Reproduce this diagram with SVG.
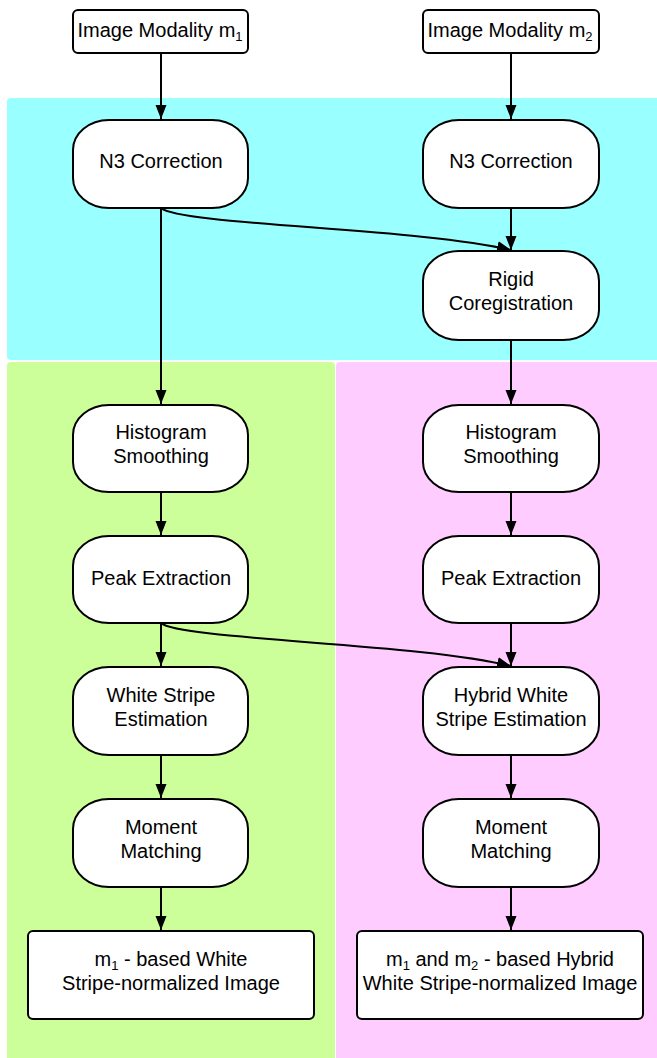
<svg xmlns="http://www.w3.org/2000/svg" width="657" height="1058" viewBox="0 0 657 1058">
<defs>
<style>
.n{fill:#fff;stroke:#000;stroke-width:2}
.t{font-family:"Liberation Sans",Arial,sans-serif;font-size:20px;fill:#000;text-anchor:middle}
.s{font-size:13px}
.c{fill:none;stroke:#000;stroke-width:2}
</style>
<marker id="ah" markerUnits="userSpaceOnUse" markerWidth="14" markerHeight="14" viewBox="0 0 14 14" refX="14" refY="7" orient="auto">
<path d="M0,1.5 L14,7 L0,12.5 Z" fill="#000"/>
</marker>
</defs>
<rect width="657" height="1058" fill="#fff"/>
<g id="panels">
<rect x="7" y="98" width="660" height="262" rx="4" fill="#99ffff"/>
<rect x="7" y="362" width="328" height="710" rx="4" fill="#ccff99"/>
<rect x="336" y="362" width="330" height="710" rx="4" fill="#ffccff"/>
</g>
<g id="connectors">
<path class="c" d="M161,53 V119" marker-end="url(#ah)"/>
<path class="c" d="M511,53 V119" marker-end="url(#ah)"/>
<path class="c" d="M511,208 V250" marker-end="url(#ah)"/>
<path class="c" d="M161,208 C180,225 420,228 511,250" marker-end="url(#ah)"/>
<path class="c" d="M161,208 V404" marker-end="url(#ah)"/>
<path class="c" d="M511,340 V404" marker-end="url(#ah)"/>
<path class="c" d="M161,492 V535" marker-end="url(#ah)"/>
<path class="c" d="M511,492 V535" marker-end="url(#ah)"/>
<path class="c" d="M161,623 V666" marker-end="url(#ah)"/>
<path class="c" d="M511,623 V666" marker-end="url(#ah)"/>
<path class="c" d="M161,623 C180,640 420,643 511,666" marker-end="url(#ah)"/>
<path class="c" d="M161,755 V798" marker-end="url(#ah)"/>
<path class="c" d="M511,755 V798" marker-end="url(#ah)"/>
<path class="c" d="M161,887 V930" marker-end="url(#ah)"/>
<path class="c" d="M511,887 V930" marker-end="url(#ah)"/>
</g>
<g id="m1">
<rect class="n" x="73" y="10" width="175" height="43" rx="5"/>
<text class="t" x="160" y="37">Image Modality m<tspan class="s" dy="4">1</tspan></text>
</g>
<g id="m2">
<rect class="n" x="423" y="10" width="176" height="43" rx="5"/>
<text class="t" x="510" y="37">Image Modality m<tspan class="s" dy="4">2</tspan></text>
</g>
<g id="n3a">
<rect class="n" x="73" y="120" width="175" height="88" rx="36" ry="30"/>
<text class="t" x="161" y="168">N3 Correction</text>
</g>
<g id="n3b">
<rect class="n" x="423" y="120" width="176" height="88" rx="36" ry="30"/>
<text class="t" x="511" y="168">N3 Correction</text>
</g>
<g id="rigid">
<rect class="n" x="423" y="251" width="176" height="89" rx="36" ry="30"/>
<text class="t" x="511" y="286">Rigid</text>
<text class="t" x="511" y="310">Coregistration</text>
</g>
<g id="hista">
<rect class="n" x="73" y="405" width="175" height="87" rx="36" ry="30"/>
<text class="t" x="161" y="439">Histogram</text>
<text class="t" x="161" y="463">Smoothing</text>
</g>
<g id="histb">
<rect class="n" x="423" y="405" width="176" height="87" rx="36" ry="30"/>
<text class="t" x="511" y="439">Histogram</text>
<text class="t" x="511" y="463">Smoothing</text>
</g>
<g id="peaka">
<rect class="n" x="73" y="536" width="175" height="87" rx="36" ry="30"/>
<text class="t" x="161" y="585">Peak Extraction</text>
</g>
<g id="peakb">
<rect class="n" x="423" y="536" width="176" height="87" rx="36" ry="30"/>
<text class="t" x="511" y="585">Peak Extraction</text>
</g>
<g id="wsa">
<rect class="n" x="73" y="667" width="175" height="88" rx="36" ry="30"/>
<text class="t" x="161" y="702">White Stripe</text>
<text class="t" x="161" y="726">Estimation</text>
</g>
<g id="wsb">
<rect class="n" x="423" y="667" width="176" height="88" rx="36" ry="30"/>
<text class="t" x="511" y="702">Hybrid White</text>
<text class="t" x="511" y="726">Stripe Estimation</text>
</g>
<g id="mma">
<rect class="n" x="73" y="799" width="175" height="88" rx="36" ry="30"/>
<text class="t" x="161" y="834">Moment</text>
<text class="t" x="161" y="858">Matching</text>
</g>
<g id="mmb">
<rect class="n" x="423" y="799" width="176" height="88" rx="36" ry="30"/>
<text class="t" x="511" y="834">Moment</text>
<text class="t" x="511" y="858">Matching</text>
</g>
<g id="outa">
<rect class="n" x="28" y="931" width="286" height="88" rx="5"/>
<text class="t" x="171" y="966">m<tspan class="s" dy="4">1</tspan><tspan dy="-4"> - based White</tspan></text>
<text class="t" x="171" y="990">Stripe-normalized Image</text>
</g>
<g id="outb">
<rect class="n" x="357" y="931" width="286" height="88" rx="5"/>
<text class="t" x="500" y="966">m<tspan class="s" dy="4">1</tspan><tspan dy="-4"> and m</tspan><tspan class="s" dy="4">2</tspan><tspan dy="-4"> - based Hybrid</tspan></text>
<text class="t" x="500" y="990">White Stripe-normalized Image</text>
</g>
</svg>
